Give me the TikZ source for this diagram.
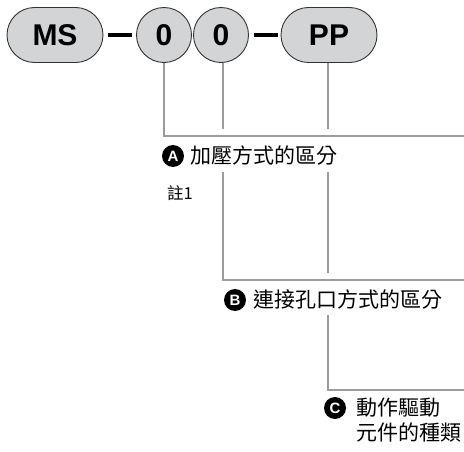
\documentclass[tikz,border=0pt]{standalone}
\usepackage{fontspec}
\setmainfont{Liberation Sans}
\newfontfamily\cjk{Noto Sans CJK TC}
\usetikzlibrary{shapes.misc}
\definecolor{pillfill}{HTML}{D3D4D6}
\definecolor{linegray}{HTML}{9C9C9E}
\begin{document}
\begin{tikzpicture}[x=1pt,y=-1pt,
  pill/.style={rounded rectangle, draw=black!80, line width=0.9pt, fill=pillfill,
    minimum width=96pt, minimum height=55pt, inner sep=0pt,
    font=\fontsize{30}{30}\selectfont\bfseries},
  digit/.style={circle, draw=black!80, line width=0.9pt, fill=pillfill,
    minimum size=55pt, inner sep=0pt, font=\fontsize{30}{30}\selectfont\bfseries},
  dashbar/.style={line width=4pt, black},
  conn/.style={linegray, line width=2.2pt},
  badge/.style={circle, fill=black, minimum size=22pt, inner sep=0pt,
    text=white, font=\fontsize{15}{15}\selectfont\bfseries},
  lbl/.style={anchor=west, inner sep=0pt, font=\cjk\fontsize{21}{24}\selectfont},
  note/.style={anchor=west, inner sep=0pt, font=\cjk\fontsize{16.5}{16}\selectfont}]
\useasboundingbox (0,0) rectangle (464,452);
% top code
\node[pill] (ms) at (55,35) {MS};
\node[digit] (d1) at (164,35) {0};
\node[digit] (d2) at (221,35) {0};
\node[pill] (pp) at (329,35) {PP};
\draw[dashbar] (108,35) -- (132,35);
\draw[dashbar] (254,35) -- (278,35);
% coordinates
\coordinate (c1) at (164,136);
\coordinate (e1) at (464,136);
\coordinate (c2) at (223,280);
\coordinate (e2) at (464,280);
\coordinate (c3) at (328,390);
\coordinate (e3) at (464,390);
\coordinate (a2) at (223,129);
\coordinate (b2) at (223,172);
\coordinate (a3) at (328,129);
\coordinate (b3) at (328,172);
\coordinate (f3) at (328,273);
\coordinate (g3) at (328,315);
% connectors
\draw[conn] (d1.south) -- (c1) -- (e1);
\draw[conn] (d2.south -| a2) -- (a2);
\draw[conn] (b2) -- (c2) -- (e2);
\draw[conn] (pp.south -| a3) -- (a3);
\draw[conn] (b3) -- (f3);
\draw[conn] (g3) -- (c3) -- (e3);
% labels
\node[badge] (ba) at (173,156) {A};
\node[lbl] (ta) at (190,156) {加壓方式的區分};
\node[note] (n1) at (167,193) {註1};
\node[badge] (bb) at (235,300) {B};
\node[lbl] (tb) at (253,300) {連接孔口方式的區分};
\node[badge] (bc) at (335,408) {C};
\node[lbl] (tc1) at (356,408) {動作驅動};
\node[lbl] (tc2) at (356,432) {元件的種類};
\end{tikzpicture}
\end{document}
